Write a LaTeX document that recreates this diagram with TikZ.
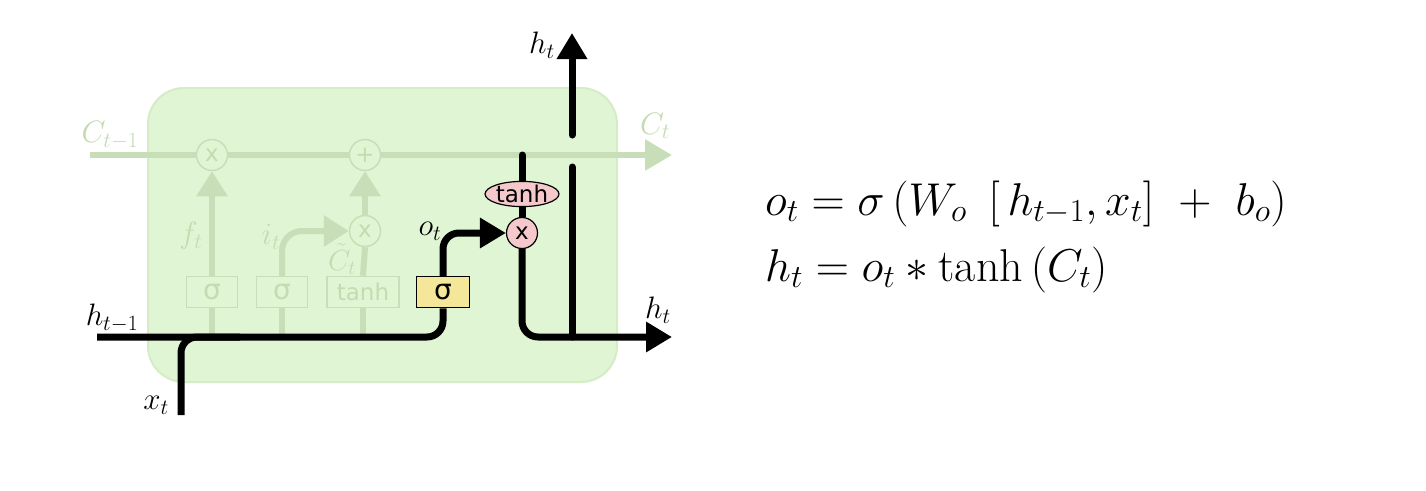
\RequirePackage{fix-cm}
\documentclass[tikz,border=0pt]{standalone}
\usepackage{fontspec}
\newfontfamily\dv{DejaVu Sans}
\usetikzlibrary{arrows.meta,shapes.geometric}
\pgfdeclarelayer{back}
\pgfdeclarelayer{wires}
\pgfsetlayers{back,wires,main}
\definecolor{cellbg}{HTML}{E0F5D3}
\definecolor{cellbd}{HTML}{D5ECC6}
\definecolor{fade}{HTML}{C8DEB8}
\definecolor{fadetxt}{HTML}{C4DBB2}
\definecolor{pinkf}{HTML}{F5C8CC}
\definecolor{yellowf}{HTML}{F4E79A}
\begin{document}
\begin{tikzpicture}[x=1pt,y=-1pt,
  lbl/.style={font=\fontsize{31}{34}\selectfont, inner sep=0},
  flbl/.style={lbl, text=fadetxt},
  fadebox/.style={draw=fade, line width=1.5, fill=cellbg, text=fadetxt,
    minimum height=31, inner sep=0},
  sig/.style={font=\dv\fontsize{28}{28}\selectfont},
  tnh/.style={font=\dv\fontsize{23}{24}\selectfont},
  fadecirc/.style={circle, draw=fade, line width=1.5, fill=cellbg, text=fadetxt,
    minimum size=31, inner sep=0, font=\dv\fontsize{23}{24}\selectfont},
  gatebox/.style={draw=black, line width=1.5, fill=yellowf, sig,
    minimum width=53, minimum height=31, inner sep=0},
  pinkcirc/.style={circle, draw=black, line width=1.2, fill=pinkf,
    minimum size=31, inner sep=0, font=\dv\fontsize{23}{24}\selectfont},
  pinkell/.style={ellipse, draw=black, line width=1.2, fill=pinkf, tnh,
    minimum width=73, minimum height=23, inner sep=0},
  fwire/.style={draw=fade, line width=6},
  farrow/.style={fwire, -{Triangle[length=25pt, width=30pt]}},
  bwire/.style={draw=black, line width=7},
  barrow/.style={bwire, -{Triangle[length=26pt, width=29pt]}},
  eqn/.style={anchor=base west, inner sep=0, font=\fontsize{46}{52}\selectfont}
]
\useasboundingbox (0,0) rectangle (1426,490);
\begin{pgfonlayer}{back}
  \fill[white] (0,0) rectangle (1426,490);
  \draw[fill=cellbg, draw=cellbd, line width=2, rounded corners=36] (148,88) rectangle (617,382);
\end{pgfonlayer}

% coordinates
\coordinate (cin) at (90,155);
\coordinate (cout) at (672,155);
\coordinate (hin) at (97,337);
\coordinate (xin) at (181,415);
\coordinate (hjoin) at (240,337);
\coordinate (ctop) at (522,155);
\coordinate (hout) at (672,337);
\coordinate (vbot) at (572,337);
\coordinate (vlo) at (572,167);
\coordinate (vhi) at (572,135);
\coordinate (htop) at (572,33);

% nodes
\node[fadecirc] (fx) at (212,155) {x};
\node[fadecirc] (fp) at (365,155) {+};
\node[fadecirc] (fx2) at (365,231) {x};
\node[fadebox, sig, minimum width=51] (b1) at (212,292) {σ};
\node[fadebox, sig, minimum width=51] (b2) at (282,292) {σ};
\node[fadebox, tnh, minimum width=72] (b3) at (363,292) {tanh};
\node[gatebox] (ys) at (443,292) {σ};
\node[pinkell] (th) at (522,194) {tanh};
\node[pinkcirc] (mul) at (522,233) {x};

% labels
\node[flbl] (lc1) at (110,135) {$C_{t-1}$};
\node[flbl] (lc2) at (655,126) {$C_t$};
\node[flbl] (lf) at (191,236) {$f_t$};
\node[flbl] (li) at (271,237) {$i_t$};
\node[flbl, font=\fontsize{29}{32}\selectfont] (lct) at (342,259) {$\tilde{C}_t$};
\node[lbl] (lh1) at (112,318) {$h_{t-1}$};
\node[lbl] (lx) at (156,405) {$x_t$};
\node[lbl] (lo) at (430,231) {$o_t$};
\node[lbl] (lht) at (542,45) {$h_t$};
\node[lbl] (lhr) at (658,310) {$h_t$};

% equations
\node[eqn] (eq1) at (765,215) {$o_t = \sigma\left(W_o\ \left[\,h_{t-1},x_t\right]\ +\ b_o\right)$};
\node[eqn] (eq2) at (765,281) {$h_t = o_t * \tanh\left(C_t\right)$};

\begin{pgfonlayer}{wires}
  % faded wires
  \draw[farrow, -{Triangle[length=27pt, width=30pt]}] (cin) -- (cout);
  \draw[fwire] (b1.south) -- (b1.south |- hin);
  \draw[fwire] (b2.south) -- (b2.south |- hin);
  \draw[fwire] (b3.south) -- (b3.south |- hin);
  \draw[farrow] (b1.north) -- (fx.south);
  \draw[fwire] (b3.north) -- (fx2.south);
  \draw[farrow] (fx2.north) -- (fp.south);
  \draw[farrow, rounded corners=20] (b2.north) |- (fx2.west);
  % black wires
  \draw[bwire, rounded corners=16] (hin) -| (ys.south);
  \draw[bwire, rounded corners=16] (xin) |- (hjoin);
  \draw[barrow, rounded corners=16] (ys.north) |- (mul.west);
  \draw[bwire, line cap=round] (ctop) -- (th.north);
  \draw[bwire] (th.south) -- (mul.north);
  \draw[barrow, rounded corners=16] (mul.south) |- (hout);
  \draw[bwire, line cap=round] (vlo) -- (vbot);
  \draw[barrow, line cap=round] (vhi) -- (htop);
\end{pgfonlayer}
\end{tikzpicture}
\end{document}
